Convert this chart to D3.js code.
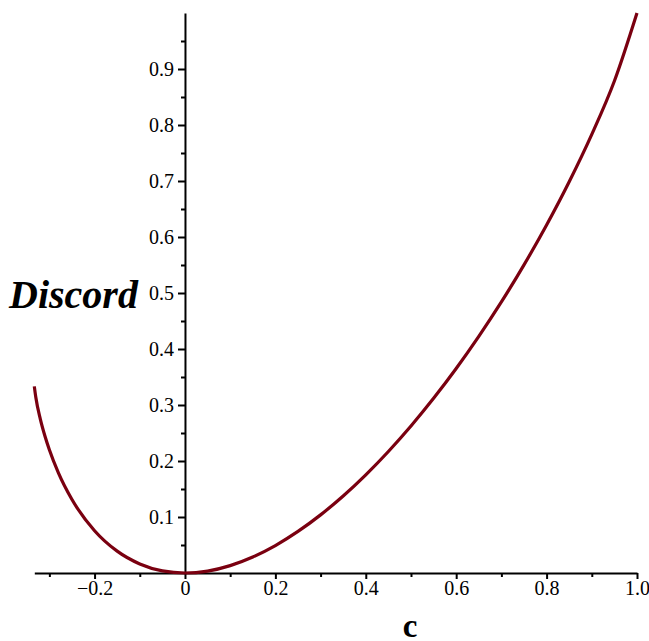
<!DOCTYPE html>
<html>
<head>
<meta charset="utf-8">
<script src="https://cdn.jsdelivr.net/npm/d3@7"></script>
<style>
  html, body { margin: 0; padding: 0; background: #fff; }
  svg { display: block; }
  svg text { font-family: 'Liberation Serif', 'Times New Roman', Times, serif !important; fill: #000; }
</style>
</head>
<body>
<svg id="chart" width="649" height="641"></svg>
<script>
// Values (c on the x axis, Discord on the y axis)
const cValues = [-0.3333, -0.33, -0.32, -0.31, -0.3, -0.28, -0.25, -0.2, -0.15, -0.1, -0.05, 0,
  0.05, 0.1, 0.15, 0.2, 0.25, 0.3, 0.35, 0.4, 0.45, 0.5, 0.55, 0.6, 0.65, 0.7, 0.75, 0.8, 0.85, 0.9, 0.95, 1.0];
const discordValues = [0.3333, 0.3137, 0.2749, 0.2451, 0.2201, 0.1788, 0.1312, 0.0755, 0.0390, 0.0162, 0.0038, 0,
  0.0034, 0.0132, 0.0286, 0.0490, 0.0742, 0.1038, 0.1375, 0.1753, 0.2170, 0.2625, 0.3119, 0.3651, 0.4225, 0.4840, 0.5502, 0.6214, 0.6986, 0.7832, 0.8785, 1.0];
const xMajorTicks = [-0.2, 0, 0.2, 0.4, 0.6, 0.8, 1.0];
const xMajorLabels = ["\u22120.2", "0", "0.2", "0.4", "0.6", "0.8", "1.0"];
const xMinorTicks = [-0.3, -0.1, 0.1, 0.3, 0.5, 0.7, 0.9];
const yMajorTicks = [0.1, 0.2, 0.3, 0.4, 0.5, 0.6, 0.7, 0.8, 0.9];
const yMajorLabels = ["0.1", "0.2", "0.3", "0.4", "0.5", "0.6", "0.7", "0.8", "0.9"];
const yMinorTicks = [0.05, 0.15, 0.25, 0.35, 0.45, 0.55, 0.65, 0.75, 0.85, 0.95];
const xLabel = "c";
const yLabel = "Discord";

const data = cValues.map((c, i) => ({ c, d: discordValues[i] }));

const serif = "'Liberation Serif', 'Times New Roman', Times, serif";
const svg = d3.select("#chart");
const x = d3.scaleLinear().domain([-1 / 3, 1]).range([34.3, 637]);
const y = d3.scaleLinear().domain([0, 1]).range([573, 13]);

// X axis
const xAxisMajor = d3.axisBottom(x).tickValues(xMajorTicks)
  .tickFormat((d, i) => xMajorLabels[i]).tickSize(6).tickSizeOuter(0).tickPadding(2);
const gx = svg.append("g").attr("transform", `translate(0,${y(0)})`).call(xAxisMajor)
  .attr("font-family", null).attr("font-size", null);
gx.select(".domain").attr("stroke", "#000").attr("stroke-width", 2);
gx.selectAll(".tick line").attr("stroke-width", 2);
gx.selectAll(".tick text").style("font-size", "20px").style("font-family", serif);
const xAxisMinor = d3.axisBottom(x).tickValues(xMinorTicks).tickFormat("").tickSize(4).tickSizeOuter(0);
const gxm = svg.append("g").attr("transform", `translate(0,${y(0)})`).call(xAxisMinor);
gxm.select(".domain").remove();
gxm.selectAll(".tick line").attr("stroke-width", 2);

// Y axis
const yAxisMajor = d3.axisLeft(y).tickValues(yMajorTicks)
  .tickFormat((d, i) => yMajorLabels[i]).tickSize(7).tickSizeOuter(0).tickPadding(4);
const gy = svg.append("g").attr("transform", `translate(${x(0)},0)`).call(yAxisMajor)
  .attr("font-family", null).attr("font-size", null);
gy.select(".domain").attr("stroke", "#000").attr("stroke-width", 2);
gy.selectAll(".tick line").attr("stroke-width", 2);
gy.selectAll(".tick text").style("font-size", "20px").style("font-family", serif);
const yAxisMinor = d3.axisLeft(y).tickValues(yMinorTicks).tickFormat("").tickSize(4).tickSizeOuter(0);
const gym = svg.append("g").attr("transform", `translate(${x(0)},0)`).call(yAxisMinor);
gym.select(".domain").remove();
gym.selectAll(".tick line").attr("stroke-width", 2);

// Curve
const line = d3.line().x(d => x(d.c)).y(d => y(d.d)).curve(d3.curveMonotoneX);
svg.append("path").datum(data)
  .attr("d", line)
  .attr("fill", "none")
  .attr("stroke", "#7a0010")
  .attr("stroke-width", 3.2)
  .attr("stroke-linecap", "butt");

// Axis titles
svg.append("text").attr("x", 9).attr("y", 308)
  .style("font-family", serif)
  .style("font-size", "40px").style("font-weight", "bold").style("font-style", "italic")
  .text(yLabel);
svg.append("text").attr("x", 410).attr("y", 637).attr("text-anchor", "middle")
  .style("font-family", serif)
  .style("font-size", "33px").style("font-weight", "bold")
  .text(xLabel);
</script>
</body>
</html>
